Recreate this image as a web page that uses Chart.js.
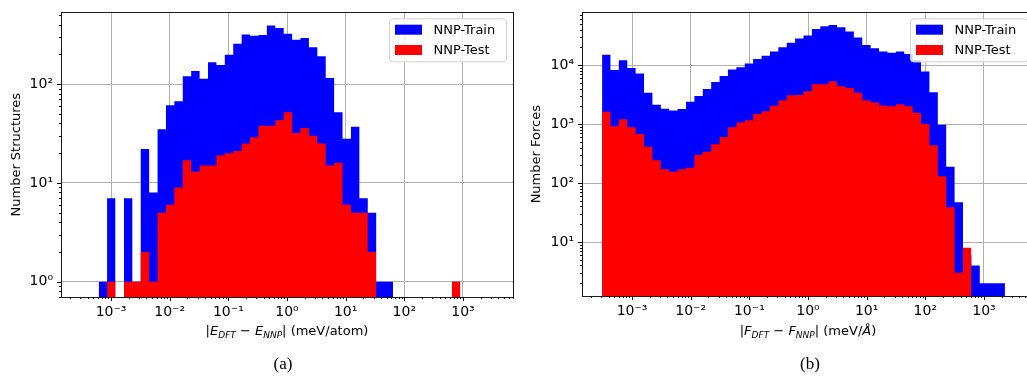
<!DOCTYPE html>
<html>
<head>
<meta charset="utf-8">
<script src="https://cdn.jsdelivr.net/npm/chart.js@4.4.0/dist/chart.umd.min.js"></script>
<style>
  html, body { margin: 0; padding: 0; background: #fff; overflow: hidden; }
  body { width: 1027px; height: 384px; position: relative; font-family: 'DejaVu Sans', sans-serif; }
  .panel { position: absolute; top: 0; height: 384px; }
  #wrapA { left: 0; width: 520px; }
  #wrapB { left: 520px; width: 530px; }
  .xtitle { position: absolute; top: 323px; font-size: 13px; line-height: 16px; white-space: nowrap; transform: translateX(-50%); }
  .xtitle sub { font-size: 9px; font-style: italic; vertical-align: -3px; line-height: 0; }
  .caption { position: absolute; top: 354px; font-family: 'Liberation Serif', serif; font-size: 17px; line-height: 20px; transform: translateX(-50%); }
</style>
</head>
<body>
<div class="panel" id="wrapA"><canvas id="chartA"></canvas></div>
<div class="panel" id="wrapB"><canvas id="chartB"></canvas></div>
<div class="xtitle" style="left:287px">|<i>E</i><sub>DFT</sub> − <i>E</i><sub>NNP</sub>| (meV/atom)</div>
<div class="xtitle" style="left:808px">|<i>F</i><sub>DFT</sub> − <i>F</i><sub>NNP</sub>| (meV/<i>Å</i>)</div>
<div class="caption" style="left:283px">(a)</div>
<div class="caption" style="left:810px">(b)</div>
<script>
// histogramme (a): energie, 43 log-bins
const logStartA = -3.2104;
const logStepA = 0.14336;
const trainA = [1, 7, 0, 7, 1, 22, 8, 35, 61, 67, 120, 136, 113, 166, 156, 198, 256, 318, 309, 314, 393, 370,
    323, 282, 293, 236, 192, 115, 52, 28, 37, 7, 5, 1, 1, 0, 0, 0, 0, 0, 0, 0, 1];
const testA = [0, 1, 0, 1, 1, 2, 1, 5, 6, 9, 17, 13, 15, 15, 19, 20, 21, 25, 29, 38, 38, 43,
    52, 32, 36, 30, 25, 15, 16, 6, 5, 5, 2, 0, 0, 0, 0, 0, 0, 0, 0, 0, 1];

// histogramme (b): krachten, 48 log-bins
const logStartB = -3.511;
const logStepB = 0.1431;
const trainB = [14900, 8270, 12100, 8930, 7200, 3380, 2120, 1820, 1690, 1800, 2380, 2980, 3930, 5180, 6500,
    8380, 9150, 10600, 12700, 14400, 16900, 19960, 23900, 28100, 31800, 41000, 45400, 47700, 43600, 37000,
    29200, 21800, 19200, 17000, 16100, 17000, 15400, 12000, 7800, 3450, 970, 189, 47, 6, 4, 2, 2, 2];
const testB = [1610, 914, 1210, 880, 675, 413, 243, 171, 155, 171, 182, 298, 338, 452, 603,
    880, 1060, 1160, 1480, 1650, 2050, 2500, 3060, 3100, 3590, 4700, 4700, 5330, 4370, 4090,
    3390, 2500, 2320, 2070, 2000, 2170, 2000, 1550, 1000, 438, 130, 39, 3, 8, 0, 0, 0, 0];

const seriesLabels = ['NNP-Train', 'NNP-Test'];
const seriesColors = ['#0000ff', '#ff0000'];
const xLogLimit = 3.853;
const yRangeA = [0.74, 532];
const yRangeB = [1.216, 78000];

const SUP = { '0': '⁰', '1': '¹', '2': '²', '3': '³', '4': '⁴', '5': '⁵', '6': '⁶', '7': '⁷', '8': '⁸', '9': '⁹', '-': '⁻' };

function isDecade(v) {
    if (!(v > 0)) return false;
    const l = Math.log10(v);
    return Math.abs(l - Math.round(l)) < 1e-6;
}

function isLogTick(v) {
    if (!(v > 0)) return false;
    const s = v / Math.pow(10, Math.floor(Math.log10(v) + 1e-9));
    return Math.abs(s - Math.round(s)) < 1e-6;
}

function powLabel(v) {
    const e = String(Math.round(Math.log10(v)));
    return '10' + e.split('').map(c => SUP[c]).join('');
}

function binEdges(start, step, n) {
    return Array.from({ length: n + 1 }, (_, i) => Math.pow(10, start + i * step));
}

function histPoints(edges, counts) {
    const pts = [];
    counts.forEach((c, i) => {
        if (c > 0) {
            pts.push({ x: edges[i], y: c }, { x: edges[i + 1], y: c });
        } else {
            pts.push({ x: edges[i], y: null });
        }
    });
    return pts;
}

// kader, tickmarks en legenda binnen de plot
const framePlugin = {
    id: 'framePlugin',
    afterDraw(chart) {
        const { ctx, chartArea: a, scales } = chart;
        ctx.save();
        ctx.strokeStyle = '#000';
        ctx.lineWidth = 1;
        ctx.beginPath();
        scales.x.ticks.forEach(t => {
            if (!isLogTick(t.value)) return;
            const px = Math.round(scales.x.getPixelForValue(t.value)) + 0.5;
            if (px < a.left || px > a.right + 1) return;
            const len = isDecade(t.value) ? 4 : 2;
            ctx.moveTo(px, a.bottom);
            ctx.lineTo(px, a.bottom + len);
        });
        scales.y.ticks.forEach(t => {
            if (!isLogTick(t.value)) return;
            const py = Math.round(scales.y.getPixelForValue(t.value)) + 0.5;
            if (py < a.top || py > a.bottom + 1) return;
            const len = isDecade(t.value) ? 4 : 2;
            ctx.moveTo(a.left, py);
            ctx.lineTo(a.left - len, py);
        });
        ctx.stroke();
        ctx.strokeStyle = '#1a1a1a';
        ctx.strokeRect(Math.round(a.left) + 0.5, Math.round(a.top) + 0.5,
            Math.round(a.right - a.left), Math.round(a.bottom - a.top));

        // legenda
        const boxW = 117, boxH = 43;
        const bx = a.right - 6.5 - boxW, by = a.top + 6.5;
        ctx.beginPath();
        ctx.roundRect(bx, by, boxW, boxH, 3);
        ctx.fillStyle = 'rgba(255,255,255,0.8)';
        ctx.fill();
        ctx.strokeStyle = '#d0d0d0';
        ctx.stroke();
        ctx.font = '13px "DejaVu Sans"';
        ctx.textBaseline = 'middle';
        chart.data.datasets.forEach((ds, k) => {
            const cy = by + 10.8 + k * 20.3;
            ctx.fillStyle = ds.backgroundColor;
            ctx.fillRect(bx + 5.5, cy - 5, 27, 10);
            ctx.fillStyle = '#000';
            ctx.fillText(ds.label, bx + 44, cy + 0.5);
        });
        ctx.restore();
    }
};

function makeHist(id, edges, train, test, yRange, yTitle, yWidth, padRight, padTop, xHeight) {
    const counts = [train, test];
    const gridColor = ctx => isDecade(ctx.tick && ctx.tick.value) ? '#b0b0b0' : 'rgba(0,0,0,0)';
    const tickFont = { family: 'DejaVu Sans', size: 14 };
    return new Chart(document.getElementById(id), {
        type: 'line',
        data: {
            datasets: counts.map((c, k) => ({
                label: seriesLabels[k],
                data: histPoints(edges, c),
                backgroundColor: seriesColors[k],
                borderColor: 'rgba(0,0,0,0)',
                borderWidth: 0,
                pointRadius: 0,
                pointHitRadius: 0,
                fill: 'start',
                spanGaps: false,
                order: 2 - k
            }))
        },
        options: {
            responsive: true,
            maintainAspectRatio: false,
            animation: false,
            layout: { padding: { left: 0, right: padRight, top: padTop, bottom: 0 } },
            plugins: { legend: { display: false }, tooltip: { enabled: false } },
            scales: {
                x: {
                    type: 'logarithmic',
                    min: Math.pow(10, -xLogLimit),
                    max: Math.pow(10, xLogLimit),
                    z: 1,
                    border: { display: false },
                    grid: { color: gridColor, lineWidth: 1, tickLength: 4, tickColor: 'rgba(0,0,0,0)' },
                    ticks: { autoSkip: false, maxRotation: 0, padding: 3, color: '#000', font: tickFont,
                        callback: v => isDecade(v) ? powLabel(v) : '' },
                    afterFit: s => { s.height = xHeight; }
                },
                y: {
                    type: 'logarithmic',
                    min: yRange[0],
                    max: yRange[1],
                    z: 1,
                    border: { display: false },
                    grid: { color: gridColor, lineWidth: 1, tickLength: 4, tickColor: 'rgba(0,0,0,0)' },
                    ticks: { autoSkip: false, padding: 4, color: '#000', font: tickFont,
                        callback: v => isDecade(v) ? powLabel(v) : '' },
                    title: { display: true, text: yTitle, color: '#000', padding: { top: 9, bottom: 0 },
                        font: { family: 'DejaVu Sans', size: 13 } },
                    afterFit: s => { s.width = yWidth; }
                }
            }
        },
        plugins: [framePlugin]
    });
}

makeHist('chartA', binEdges(logStartA, logStepA, trainA.length), trainA, testA,
    yRangeA, 'Number Structures', 61, 7, 4, 87);
makeHist('chartB', binEdges(logStartB, logStepB, trainB.length), trainB, testB,
    yRangeB, 'Number Forces', 62, 16, 3, 88);
</script>
</body>
</html>
